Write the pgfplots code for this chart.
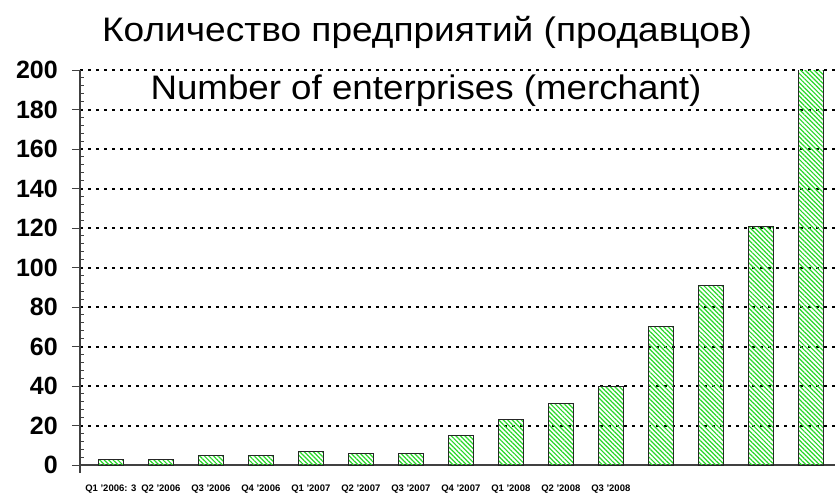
\documentclass[border=0pt]{standalone}
\usepackage{pgfplots}
\pgfplotsset{compat=1.18}
\usepackage{fontspec}
\setmainfont{Liberation Sans}
\usetikzlibrary{patterns.meta}
\definecolor{hatch}{RGB}{40,215,40}
\begin{document}
\begin{tikzpicture}
\begin{axis}[
  at={(0,0)}, anchor=south west,
  scale only axis, width=755pt, height=395pt,
  xmin=-0.616, xmax=14.484, ymin=0, ymax=200,
  axis x line*=bottom, axis y line*=left,
  axis line style={black!75, line width=1.4pt},
  ytick={0,20,...,200}, minor y tick num=4,
  tick align=outside, major tick length=8pt, minor tick length=-4pt,
  tick style={black!75, line width=1pt},
  major x tick style={draw=none},
  ymajorgrids,
  major grid style={black, line width=2pt, dash pattern=on 3.3pt off 4.7pt},
  /pgf/number format/assume math mode=true,
  yticklabel style={font=\fontsize{25}{28}\selectfont\bfseries, anchor=east, inner sep=0pt, xshift=-14pt},
  xtick={0,...,10},
  xticklabels={{Q1 '2006: 3},{Q2 '2006},{Q3 '2006},{Q4 '2006},{Q1 '2007},{Q2 '2007},{Q3 '2007},{Q4 '2007},{Q1 '2008},{Q2 '2008},{Q3 '2008}},
  xticklabel style={font=\fontsize{9.5}{11}\selectfont\bfseries, anchor=center, inner sep=0pt, yshift=-16pt},
]
\addplot[ybar, bar width=0.5, draw=black!85, line width=1pt,
  pattern={Lines[angle=-45, distance=3.2pt, line width=1.2pt]}, pattern color=hatch]
  coordinates {(0,3)(1,3)(2,5)(3,5)(4,7)(5,6)(6,6)(7,15)(8,23)(9,31)(10,40)(11,70)(12,91)(13,121)(14,250)};
\end{axis}
\draw[black!75, line width=1.4pt] (0,0) -- (0,-8pt);
\node[anchor=base, font=\fontsize{34}{40}\selectfont, inner sep=0pt, xscale=1.09] at (347pt,423pt) {Количество предприятий (продавцов)};
\node[anchor=base, font=\fontsize{34}{40}\selectfont, fill=white, inner xsep=4pt, inner ysep=0pt, text height=0.72em, text depth=0.52em, xscale=1.08] at (346pt,365pt) {Number of enterprises (merchant)};
\pgfresetboundingbox
\useasboundingbox (-80pt,-31pt) rectangle (755pt,465pt);
\end{tikzpicture}
\end{document}
